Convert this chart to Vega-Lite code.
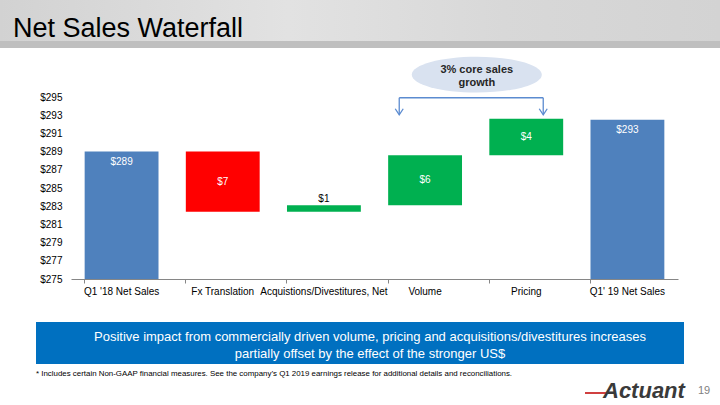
{
  "$schema": "https://vega.github.io/schema/vega-lite/v6.json",
  "width": 607,
  "height": 182,
  "autosize": "none",
  "padding": {"left": 71, "top": 97, "right": 42, "bottom": 126},
  "background": "white",
  "config": {
    "view": {"stroke": null},
    "font": "Liberation Sans",
    "text": {"font": "Liberation Sans"},
    "axis": {"labelOverlap": false},
    "axisY": {"labelOverlap": false}
  },
  "resolve": {"axis": {"y": "independent"}},
  "datasets": {
    "bars": [
      {"category": "Q1 '18 Net Sales", "start": 275, "end": 289.0, "label": "$289", "kind": "total", "pos": "top"},
      {"category": "Fx Translation", "start": 289.0, "end": 282.4, "label": "$7", "kind": "decrease", "pos": "mid"},
      {"category": "Acquistions/Divestitures, Net", "start": 282.4, "end": 283.1, "label": "$1", "kind": "increase", "pos": "above"},
      {"category": "Volume", "start": 283.1, "end": 288.6, "label": "$6", "kind": "increase", "pos": "mid"},
      {"category": "Pricing", "start": 288.6, "end": 292.6, "label": "$4", "kind": "increase", "pos": "mid"},
      {"category": "Q1' 19 Net Sales", "start": 275, "end": 292.5, "label": "$293", "kind": "total", "pos": "top"}
    ],
    "one": [{"id": 1}]
  },
  "data": {"name": "bars"},
  "encoding": {
    "x": {
      "field": "category",
      "type": "nominal",
      "sort": null,
      "scale": {"paddingInner": 0.27, "paddingOuter": 0.135},
      "axis": {
        "title": null,
        "labelAngle": 0,
        "labelFontSize": 10,
        "labelColor": "#000000",
        "labelOverlap": false,
        "labelLimit": 300,
        "labelPadding": 3,
        "bandPosition": 0,
        "domainColor": "#868686",
        "tickColor": "#868686",
        "tickSize": 4,
        "grid": false
      }
    }
  },
  "layer": [
    {
      "data": {"name": "one"},
      "mark": {"type": "rect", "color": {"gradient": "linear", "x1": 0, "x2": 1, "y1": 0, "y2": 0, "stops": [{"offset": 0, "color": "#D2D2D2"}, {"offset": 0.4, "color": "#E2E2E2"}, {"offset": 0.7, "color": "#D8D8D8"}, {"offset": 1, "color": "#D3D3D3"}]}},
      "encoding": {"x": {"value": -71}, "x2": {"value": 649}, "y": {"value": -97}, "y2": {"value": -56}}
    },
    {
      "data": {"name": "one"},
      "mark": {"type": "rect", "color": "#BFBFBF"},
      "encoding": {"x": {"value": -71}, "x2": {"value": 649}, "y": {"value": -56}, "y2": {"value": -49}}
    },
    {
      "data": {"name": "one"},
      "mark": {"type": "text", "text": "Net Sales Waterfall", "fontSize": 27, "color": "#000000", "align": "left", "baseline": "alphabetic"},
      "encoding": {"x": {"value": -58}, "y": {"value": -60}}
    },
    {
      "mark": {"type": "bar"},
      "encoding": {
        "y": {
          "field": "end",
          "type": "quantitative",
          "scale": {"domain": [275, 295], "nice": false, "zero": false},
          "axis": {
            "title": null,
            "values": [275, 277, 279, 281, 283, 285, 287, 289, 291, 293, 295],
            "format": "$.0f",
            "labelFontSize": 10,
            "labelColor": "#000000",
            "labelPadding": 9,
            "labelOverlap": false,
            "domain": false,
            "ticks": false,
            "grid": false
          }
        },
        "y2": {"field": "start"},
        "color": {
          "field": "kind",
          "type": "nominal",
          "scale": {"domain": ["total", "decrease", "increase"], "range": ["#4F81BD", "#FF0000", "#00B050"]},
          "legend": null
        }
      }
    },
    {
      "transform": [{"filter": "datum.pos === 'top'"}],
      "mark": {"type": "text", "color": "#FFFFFF", "fontSize": 10, "baseline": "middle", "dy": 10},
      "encoding": {"y": {"field": "end", "type": "quantitative", "axis": null}, "text": {"field": "label"}}
    },
    {
      "transform": [{"filter": "datum.pos === 'mid'"}, {"calculate": "(datum.start + datum.end) / 2", "as": "mid"}],
      "mark": {"type": "text", "color": "#FFFFFF", "fontSize": 10, "baseline": "middle"},
      "encoding": {"y": {"field": "mid", "type": "quantitative", "axis": null}, "text": {"field": "label"}}
    },
    {
      "transform": [{"filter": "datum.pos === 'above'"}],
      "mark": {"type": "text", "color": "#000000", "fontSize": 10, "baseline": "middle", "dy": -6},
      "encoding": {"y": {"field": "end", "type": "quantitative", "axis": null}, "text": {"field": "label"}}
    },
    {
      "data": {"name": "one"},
      "mark": {"type": "point", "shape": "M-1,0A1,0.275,0,1,1,1,0A1,0.275,0,1,1,-1,0Z", "filled": true, "color": "#D9E2F0", "opacity": 1, "size": 16900},
      "encoding": {"x": {"datum": "Pricing", "bandPosition": -0.17}, "y": {"datum": 297.45, "axis": null}}
    },
    {
      "data": {"name": "one"},
      "mark": {"type": "text", "text": ["3% core sales", "growth"], "fontSize": 11, "fontWeight": "bold", "color": "#262626", "baseline": "middle", "lineHeight": 13},
      "encoding": {"x": {"datum": "Pricing", "bandPosition": -0.17}, "y": {"datum": 298.0, "axis": null}}
    },
    {
      "data": {"name": "one"},
      "mark": {"type": "rule", "color": "#5B8BD0", "strokeWidth": 1.3},
      "encoding": {"x": {"datum": "Volume", "bandPosition": 0.15}, "x2": {"datum": "Pricing", "bandPosition": 0.73}, "y": {"datum": 294.92, "axis": null}}
    },
    {
      "data": {"name": "one"},
      "mark": {"type": "rule", "color": "#5B8BD0", "strokeWidth": 1.3},
      "encoding": {"x": {"datum": "Volume", "bandPosition": 0.15}, "y": {"datum": 294.92, "axis": null}, "y2": {"datum": 293.1}}
    },
    {
      "data": {"name": "one"},
      "mark": {"type": "rule", "color": "#5B8BD0", "strokeWidth": 1.3},
      "encoding": {"x": {"datum": "Pricing", "bandPosition": 0.73}, "y": {"datum": 294.92, "axis": null}, "y2": {"datum": 293.1}}
    },
    {
      "data": {"name": "one"},
      "mark": {"type": "point", "shape": "M-1,-1.5L0,0L1,-1.5", "filled": false, "color": "#5B8BD0", "strokeWidth": 1.3, "opacity": 1, "size": 64},
      "encoding": {"x": {"datum": "Volume", "bandPosition": 0.15}, "y": {"datum": 293.05, "axis": null}}
    },
    {
      "data": {"name": "one"},
      "mark": {"type": "point", "shape": "M-1,-1.5L0,0L1,-1.5", "filled": false, "color": "#5B8BD0", "strokeWidth": 1.3, "opacity": 1, "size": 64},
      "encoding": {"x": {"datum": "Pricing", "bandPosition": 0.73}, "y": {"datum": 293.05, "axis": null}}
    },
    {
      "data": {"name": "one"},
      "mark": {"type": "rect", "color": "#0070C0"},
      "encoding": {"x": {"value": -35}, "x2": {"value": 613}, "y": {"value": 225}, "y2": {"value": 267}}
    },
    {
      "data": {"name": "one"},
      "mark": {"type": "text", "text": ["Positive impact from commercially driven volume, pricing and acquisitions/divestitures increases", "partially offset by the effect of the stronger US$"], "fontSize": 13, "color": "#FFFFFF", "align": "center", "baseline": "middle", "lineHeight": 17},
      "encoding": {"x": {"value": 299}, "y": {"value": 240}}
    },
    {
      "data": {"name": "one"},
      "mark": {"type": "text", "text": "* Includes certain Non-GAAP financial measures. See the company’s Q1 2019 earnings release for additional details and  reconciliations.", "fontSize": 7.9, "color": "#000000", "align": "left", "baseline": "middle"},
      "encoding": {"x": {"value": -35}, "y": {"value": 277}}
    },
    {
      "data": {"name": "one"},
      "mark": {"type": "rule", "color": "#C00000", "strokeWidth": 1.5},
      "encoding": {"x": {"value": 514}, "x2": {"value": 541}, "y": {"value": 296}}
    },
    {
      "data": {"name": "one"},
      "mark": {"type": "text", "text": "Actuant", "fontSize": 22, "fontStyle": "italic", "fontWeight": "bold", "color": "#3A3A3A", "align": "left", "baseline": "middle"},
      "encoding": {"x": {"value": 532}, "y": {"value": 294}}
    },
    {
      "data": {"name": "one"},
      "mark": {"type": "text", "text": "19", "fontSize": 11, "color": "#7F7F7F", "align": "left", "baseline": "middle"},
      "encoding": {"x": {"value": 627}, "y": {"value": 294}}
    }
  ]
}
